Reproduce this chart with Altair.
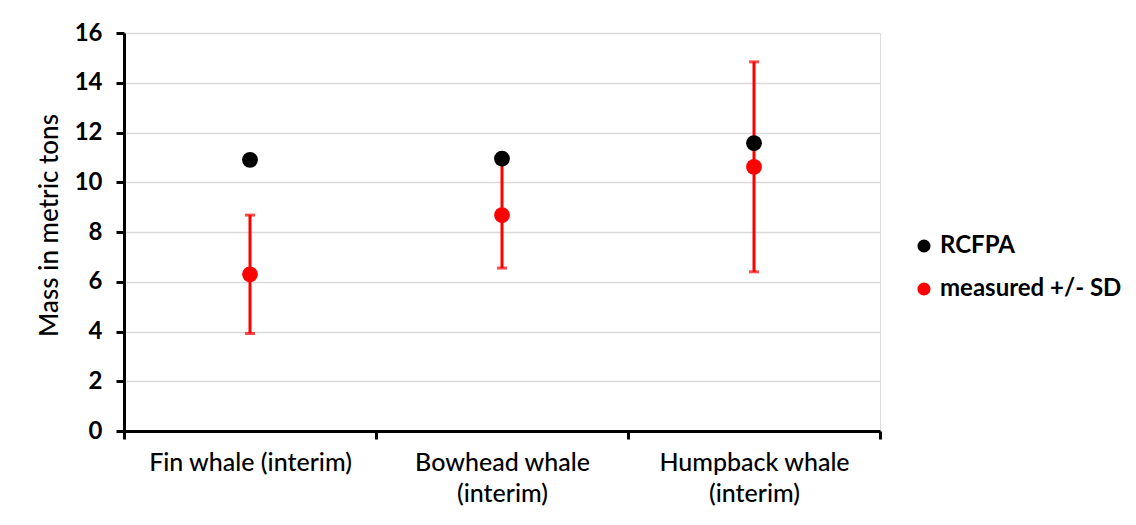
import altair as alt
import pandas as pd

categories = ["Fin whale (interim)", "Bowhead whale (interim)", "Humpback whale (interim)"]
rcfpa = [10.9, 10.95, 11.57]
measured = [6.3, 8.68, 10.62]
sd = [2.38, 2.13, 4.22]
series_names = ["RCFPA", "measured +/- SD"]
y_ticks = [0, 2, 4, 6, 8, 10, 12, 14, 16]

FONT = "Lato"

err = pd.DataFrame({"category": categories, "mean": measured, "sd": sd})
pts = pd.DataFrame({
    "category": categories + categories,
    "value": rcfpa + measured,
    "series": [series_names[0]] * 3 + [series_names[1]] * 3,
})

x_enc = alt.X(
    "category:N",
    sort=categories,
    scale=alt.Scale(paddingInner=0, paddingOuter=0),
    axis=alt.Axis(
        title=None,
        labelAngle=0,
        tickBand="extent",
        grid=False,
        domainColor="black",
        domainWidth=3,
        tickColor="black",
        tickWidth=3,
        tickSize=8,
        labelPadding=11,
        labelFont=FONT,
        labelFontSize=25,
        labelFontWeight=500,
        labelColor="black",
        labelLimit=400,
        labelLineHeight=31,
        labelExpr="indexof(datum.label + '', 'whale') < 0 ? '' : (datum.label == 'Fin whale (interim)' ? datum.label : [replace(datum.label, ' (interim)', ''), '(interim)'])",
    ),
)

y_scale = alt.Scale(domain=[0, 16], nice=False, zero=True)
y_axis = alt.Axis(
    title="Mass in metric tons",
    values=y_ticks,
    grid=True,
    gridColor="#d9d9d9",
    gridWidth=1.3,
    domainColor="black",
    domainWidth=3,
    tickColor="black",
    tickWidth=3,
    tickSize=8,
    labelPadding=14,
    labelFont=FONT,
    labelFontSize=24,
    labelFontWeight="bold",
    labelColor="black",
    titleFont=FONT,
    titleFontSize=26,
    titleFontWeight=500,
    titleColor="black",
    titleX=-62,
    titleY=192,
)

base_err = alt.Chart(err).transform_calculate(
    lo="datum.mean - datum.sd", hi="datum.mean + datum.sd"
)

rule = base_err.mark_rule(color="#ff0000", strokeWidth=3).encode(
    x=x_enc,
    y=alt.Y("lo:Q", scale=y_scale, axis=y_axis),
    y2="hi:Q",
)
cap_lo = base_err.mark_tick(color="#ff0000", thickness=3, size=10, orient="horizontal").encode(
    x=x_enc, y=alt.Y("lo:Q", scale=y_scale)
)
cap_hi = base_err.mark_tick(color="#ff0000", thickness=3, size=10, orient="horizontal").encode(
    x=x_enc, y=alt.Y("hi:Q", scale=y_scale)
)

color_scale = alt.Scale(domain=series_names, range=["#000000", "#ff0000"])

points = alt.Chart(pts).mark_point(filled=True, shape="circle", opacity=1, size=250).encode(
    x=x_enc,
    y=alt.Y("value:Q", scale=y_scale),
    color=alt.Color(
        "series:N",
        scale=color_scale,
        sort=series_names,
        legend=alt.Legend(
            title=None,
            orient="none",
            legendX=788,
            legendY=201,
            symbolType="circle",
            symbolSize=170,
            symbolOpacity=1,
            labelFont=FONT,
            labelFontSize=24,
            labelFontWeight="bold",
            labelColor="black",
            labelOffset=4,
            rowPadding=19,
            padding=0,
            labelLimit=400,
        ),
    ),
    order=alt.Order("series:N", sort="descending"),
)

chart = (
    alt.layer(rule, cap_lo, cap_hi, points)
    .properties(
        width=756,
        height=398,
        autosize=alt.AutoSizeParams(type="none"),
        padding={"left": 116, "top": 25, "right": 248, "bottom": 86},
    )
    .configure_view(stroke=None)
    .configure(background="white")
)

chart.save("out.html", embed_options={"renderer": "svg", "actions": False})
